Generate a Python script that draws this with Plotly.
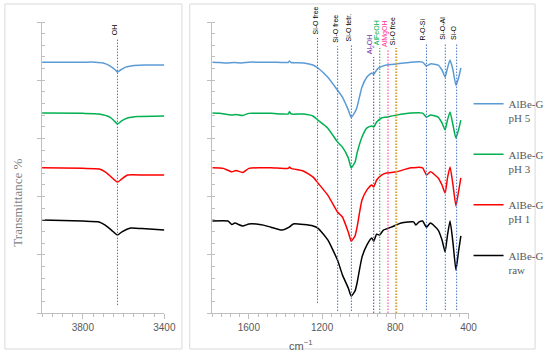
import plotly.graph_objects as go

# ---------------- data ----------------
series_names = ["AlBe-G<br>pH 5", "AlBe-G<br>pH 3", "AlBe-G<br>pH 1", "AlBe-G<br>raw"]
series_colors = ["#5B9BD5", "#00B050", "#FF0000", "#000000"]

# left panel (OH region)
wn_left_blue = [4000, 3900, 3800, 3740, 3700, 3667, 3640, 3630, 3615, 3590, 3557, 3500, 3400]
t_left_blue = [86.2, 86.2, 86.2, 86.2, 85.9, 84.9, 83.5, 82.8, 83.5, 84.5, 85.0, 85.2, 85.2]
wn_left_green = [4000, 3800, 3720, 3667, 3640, 3630, 3610, 3580, 3530, 3400]
t_left_green = [68.7, 68.6, 68.4, 67.3, 65.6, 64.9, 66.0, 67.0, 67.5, 67.7]
wn_left_red = [4000, 3800, 3720, 3690, 3660, 3630, 3610, 3580, 3500, 3400]
t_left_red = [49.9, 49.7, 49.5, 48.5, 46.7, 45.0, 46.0, 47.4, 47.4, 47.4]
wn_left_black = [4000, 3800, 3720, 3690, 3660, 3630, 3610, 3565, 3510, 3400]
t_left_black = [32.0, 31.6, 31.3, 30.2, 28.5, 26.8, 27.8, 29.2, 29.0, 28.5]

# right panel (fingerprint region)
wn_right_blue = [1800, 1760, 1720, 1680, 1640, 1600, 1540, 1480, 1420, 1385, 1378, 1370, 1300, 1250,
                 1223, 1170, 1116, 1089, 1057, 1041, 1020, 1009, 982, 955, 929, 918, 902, 891, 849,
                 795, 715, 651, 630, 608, 566, 545, 528, 515, 501, 485, 469, 455, 442]
t_right_blue = [86.2, 86.1, 85.9, 86.1, 85.9, 86.2, 86.2, 86.2, 86.1, 86.1, 86.6, 86.1, 85.9, 85.2,
                84.2, 81.1, 76.6, 74.2, 69.8, 67.3, 69.1, 70.8, 77.7, 81.1, 82.5, 82.1, 83.5, 84.2, 85.2,
                85.6, 86.2, 86.2, 84.9, 85.6, 85.2, 83.5, 81.1, 84.2, 86.9, 83.5, 78.3, 80.7, 84.2]

wn_right_green = [1800, 1760, 1693, 1670, 1634, 1600, 1540, 1480, 1420, 1385, 1378, 1370, 1300, 1250,
                  1223, 1170, 1116, 1089, 1057, 1041, 1020, 1009, 982, 955, 929, 918, 902, 875, 849,
                  795, 715, 651, 630, 608, 566, 545, 528, 515, 501, 485, 469, 455, 442]
t_right_green = [68.7, 68.6, 68.0, 68.2, 67.9, 68.6, 68.6, 68.6, 68.4, 68.4, 69.2, 68.4, 68.4, 67.7,
                 66.3, 63.6, 58.8, 57.0, 53.3, 49.9, 51.9, 55.0, 60.5, 63.6, 64.3, 63.9, 65.6, 67.0, 67.3,
                 68.0, 68.7, 68.7, 67.3, 68.0, 67.3, 65.3, 62.9, 66.3, 69.1, 64.6, 60.1, 62.9, 66.3]

wn_right_red = [1800, 1740, 1693, 1670, 1634, 1600, 1540, 1480, 1420, 1385, 1378, 1370, 1303, 1249,
                1223, 1169, 1116, 1089, 1057, 1041, 1020, 1009, 982, 955, 929, 918, 902, 875, 849,
                795, 715, 651, 630, 608, 566, 545, 528, 515, 501, 485, 469, 455, 442]
t_right_red = [49.9, 49.7, 48.5, 49.0, 48.3, 49.7, 49.9, 49.9, 49.7, 49.7, 50.2, 49.7, 48.8, 46.7,
               44.7, 40.5, 34.7, 33.0, 27.8, 24.7, 26.5, 29.5, 38.8, 42.3, 44.0, 43.3, 45.7, 47.4, 48.1,
               48.5, 49.9, 49.9, 47.4, 48.5, 46.4, 44.0, 41.2, 46.4, 50.2, 44.0, 36.8, 41.6, 46.4]

wn_right_black = [1800, 1714, 1693, 1677, 1634, 1600, 1560, 1520, 1480, 1420, 1380, 1357, 1300, 1249,
                  1223, 1169, 1116, 1089, 1057, 1041, 1020, 1009, 982, 955, 929, 918, 902, 886, 865,
                  849, 822, 768, 700, 688, 670, 651, 630, 608, 566, 545, 528, 515, 501, 485, 469, 455, 442]
t_right_black = [31.6, 31.6, 30.4, 30.9, 29.9, 30.6, 30.6, 30.2, 29.5, 28.5, 29.5, 30.6, 30.4, 29.9,
                 29.2, 25.1, 18.2, 13.1, 8.6, 5.8, 7.6, 10.3, 19.2, 23.4, 25.8, 24.7, 27.1, 26.8, 28.5,
                 28.9, 29.5, 30.9, 31.3, 30.2, 31.3, 31.6, 29.5, 30.9, 28.5, 25.1, 21.0, 26.8, 31.6,
                 24.1, 14.8, 21.0, 26.5]

# band assignments
oh_band = 3630
band_labels = ["Si-O free", "Si-O free", "Si-O tetr.", "Al<sub>2</sub>OH", "AlFeOH", "AlMgOH",
               "Si-O free", "R-O-Si", "Si-O-Al", "Si-O"]
band_wn = [1225, 1115, 1040, 918, 885, 840, 795, 630, 527, 465]

# ---------------- styling ----------------
band_line_colors = ["#4472C4", "#4472C4", "#4472C4", "#7030A0", "#00B050", "#FF3399",
                    "#D4A334", "#4472C4", "#4472C4", "#4472C4"]
band_text_colors = ["#000000", "#000000", "#000000", "#7030A0", "#00B050", "#FF3399",
                    "#000000", "#000000", "#000000", "#000000"]
band_widths = [1, 1, 1, 1, 1, 1, 2, 1, 1, 1]
band_top = [94.5, 91.7, 92.4, 88.0, 91.1, 90.4, 91.1, 92.8, 92.8, 92.8]
band_bottom = [3.4, 0.7, 0.7, 0.0, 0.0, 0.0, 0.0, 1.0, 1.0, 1.0]
DOT = "1.5px,1.5px"

left = [(wn_left_blue, t_left_blue), (wn_left_green, t_left_green),
        (wn_left_red, t_left_red), (wn_left_black, t_left_black)]
right = [(wn_right_blue, t_right_blue), (wn_right_green, t_right_green),
         (wn_right_red, t_right_red), (wn_right_black, t_right_black)]

fig = go.Figure()
for i, name in enumerate(series_names):
    lx, ly = left[i]
    rx, ry = right[i]
    fig.add_trace(go.Scatter(x=lx, y=ly, mode="lines", xaxis="x", yaxis="y",
                             line=dict(color=series_colors[i], width=1.5, shape="spline", smoothing=0.5),
                             showlegend=False, legendgroup=str(i), hoverinfo="skip"))
    fig.add_trace(go.Scatter(x=rx, y=ry, mode="lines", xaxis="x2", yaxis="y2", name=name,
                             line=dict(color=series_colors[i], width=1.5, shape="spline", smoothing=0.5),
                             showlegend=True, legendgroup=str(i), hoverinfo="skip"))

shapes = []
annotations = []
# panel frames
shapes.append(dict(type="rect", xref="paper", yref="paper", x0=5/550, x1=186/550,
                   y0=1-349/358, y1=1-4/358, line=dict(color="#D9D9D9", width=1)))
shapes.append(dict(type="rect", xref="paper", yref="paper", x0=194/550, x1=547/550,
                   y0=1-349/358, y1=1-4/358, line=dict(color="#D9D9D9", width=1)))
# OH line
shapes.append(dict(type="line", xref="x", yref="y", x0=oh_band, x1=oh_band, y0=2.7, y1=94.1,
                   line=dict(color="#4472C4", width=1, dash=DOT)))
annotations.append(dict(x=oh_band, y=94.1, xref="x", yref="y", text="OH", textangle=-90,
                        showarrow=False, yanchor="bottom", xanchor="center", yshift=2, xshift=-3,
                        font=dict(family="Liberation Sans", size=7, color="#000000")))
for i, lab in enumerate(band_labels):
    shapes.append(dict(type="line", xref="x2", yref="y2", x0=band_wn[i], x1=band_wn[i],
                       y0=band_bottom[i], y1=band_top[i],
                       line=dict(color=band_line_colors[i], width=band_widths[i], dash=DOT)))
    annotations.append(dict(x=band_wn[i], y=band_top[i], xref="x2", yref="y2", text=lab,
                            textangle=-90, showarrow=False, yanchor="bottom", xanchor="center",
                            yshift=1, xshift=-3,
                            font=dict(family="Liberation Sans", size=7, color=band_text_colors[i])))

annotations.append(dict(x=17/550, y=1-203/358, xref="paper", yref="paper", text="Transmittance %",
                        textangle=-90, showarrow=False, xanchor="center", yanchor="middle",
                        font=dict(family="Liberation Serif", size=13, color="#7F7F7F")))
annotations.append(dict(x=307/550, y=1-345/358, xref="paper", yref="paper", text="cm<sup>−1</sup>",
                        showarrow=False, xanchor="center", yanchor="middle",
                        font=dict(family="Liberation Sans", size=11, color="#595959")))

axis_common = dict(showgrid=False, zeroline=False, showline=True, linecolor="#BFBFBF", linewidth=1,
                   ticks="outside", tickcolor="#BFBFBF", ticklen=5,
                   tickfont=dict(family="Liberation Sans", size=10, color="#595959"))
yaxis_common = dict(showgrid=False, zeroline=False, showline=True, linecolor="#BFBFBF", linewidth=1,
                    ticks="outside", tickcolor="#BFBFBF", ticklen=4, range=[0, 100],
                    tick0=0, dtick=20, showticklabels=False,
                    minor=dict(ticks="inside", ticklen=3, dtick=4, tickcolor="#BFBFBF", showgrid=False))

fig.update_layout(
    width=550, height=358, margin=dict(l=0, r=0, t=0, b=0),
    paper_bgcolor="white", plot_bgcolor="white",
    xaxis=dict(domain=[43/550, 168/550], range=[4000, 3400], tick0=3400, dtick=400,
               anchor="y", minor=dict(ticks="outside", ticklen=3, dtick=50, tickcolor="#BFBFBF"),
               **axis_common),
    xaxis2=dict(domain=[217/550, 479/550], range=[1800, 400], tick0=400, dtick=400,
                anchor="y2", minor=dict(ticks="outside", ticklen=3, dtick=50, tickcolor="#BFBFBF"),
                **axis_common),
    yaxis=dict(domain=[1-313/358, 1-22/358], anchor="x", **yaxis_common),
    yaxis2=dict(domain=[1-313/358, 1-22/358], anchor="x2", **yaxis_common),
    shapes=shapes, annotations=annotations,
    legend=dict(x=479/550, y=1-90/358, xanchor="left", yanchor="top", traceorder="grouped",
                tracegroupgap=19, valign="top", bgcolor="rgba(0,0,0,0)",
                font=dict(family="Liberation Serif", size=11, color="#595959")),
)

fig.write_html("out.html", config={"displayModeBar": False},
               post_script="document.body.style.margin='0';")
